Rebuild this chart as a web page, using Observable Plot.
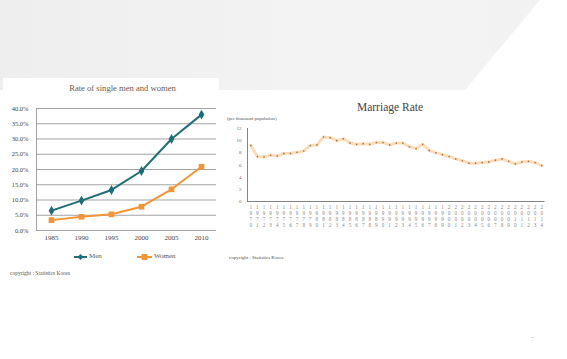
<!DOCTYPE html>
<html><head><meta charset="utf-8">
<script src="https://cdn.jsdelivr.net/npm/d3@7"></script>
<script src="https://cdn.jsdelivr.net/npm/@observablehq/plot@0.6"></script>
<style>
html,body{margin:0;padding:0;}
body{width:567px;height:359px;position:relative;overflow:hidden;background:#fff;font-family:"Liberation Serif",serif;}
#band{position:absolute;left:0;top:0;width:567px;height:90px;background:linear-gradient(90deg,#eeeeee,#f3f3f3 55%,#f2f2f2);clip-path:polygon(0 0,540px 0,465px 90px,0 90px);}
#leftpanel{position:absolute;left:3px;top:78px;width:216px;height:208px;background:#fff;}
.abs{position:absolute;white-space:nowrap;}
svg{overflow:visible;}
</style></head><body>
<div id="band"></div>
<div id="leftpanel"></div>
<div class="abs" id="ltitle" style="left:0;width:245px;top:83px;text-align:center;font-size:8.6px;color:#6b5b4b;"></div>
<div class="abs" id="left" style="left:0;top:100px;"></div>
<div class="abs" id="legend" style="left:0;top:251px;font-size:7px;color:#555;"></div>
<div class="abs" id="lcopy" style="left:10px;top:270px;font-size:5.5px;color:#555;"></div>
<div class="abs" id="rtitle" style="left:222px;width:336px;top:101px;text-align:center;font-size:11.5px;color:#444;"></div>
<div class="abs" id="unit" style="left:227px;top:116px;font-size:4.8px;color:#555;"></div>
<div class="abs" id="right" style="left:222px;top:120px;"></div>
<div class="abs" id="rcopy" style="left:229px;top:255px;font-size:5px;color:#555;"></div>
<div class="abs" style="left:530px;top:336px;font-size:8px;color:#ddd;">7</div>
<script>
// ---- Left chart data: rate of single men and women (%)
const singleYears = [1985, 1990, 1995, 2000, 2005, 2010];
const menRate = [6.5, 9.8, 13.3, 19.5, 30.0, 38.0];
const womenRate = [3.4, 4.5, 5.3, 7.8, 13.5, 20.9];
const seriesNames = ["Men", "Women"];
const pctTicks = [0, 5, 10, 15, 20, 25, 30, 35, 40];
const leftTitle = "Rate of single men and women";
const copyrightText = "copyright : Statistics Korea";

// ---- Right chart data: crude marriage rate (per thousand population)
const marriageYears = [1970,1971,1972,1973,1974,1975,1976,1977,1978,1979,
  1980,1981,1982,1983,1984,1985,1986,1987,1988,1989,
  1990,1991,1992,1993,1994,1995,1996,1997,1998,1999,
  2000,2001,2002,2003,2004,2005,2006,2007,2008,2009,
  2010,2011,2012,2013,2014];
const marriageRate = [9.2,7.4,7.3,7.6,7.5,7.9,7.9,8.1,8.3,9.2,
  9.3,10.6,10.5,10.0,10.3,9.6,9.4,9.5,9.4,9.7,
  9.7,9.3,9.6,9.6,9.0,8.7,9.4,8.4,8.0,7.7,
  7.4,7.0,6.7,6.3,6.3,6.4,6.5,6.8,7.0,6.6,
  6.2,6.5,6.6,6.4,5.9];
const rateTicks = [0, 2, 4, 6, 8, 10, 12];
const rightTitle = "Marriage Rate";
const unitText = "(per thousand population)";

const teal = "#1f6e77", orange = "#f29438";
const font = "Liberation Serif";

document.getElementById("ltitle").textContent = leftTitle;
document.getElementById("rtitle").textContent = rightTitle;
document.getElementById("unit").textContent = unitText;
document.getElementById("lcopy").textContent = copyrightText;
document.getElementById("rcopy").textContent = copyrightText;

const singleData = [];
singleYears.forEach((y, i) => {
  singleData.push({year: y, value: menRate[i], series: seriesNames[0]});
  singleData.push({year: y, value: womenRate[i], series: seriesNames[1]});
});
const men = singleData.filter(d => d.series === seriesNames[0]);
const women = singleData.filter(d => d.series === seriesNames[1]);
const lxDom = [singleYears[0] - 2.5, singleYears[singleYears.length - 1] + 2.5];

const left = Plot.plot({
  width: 220, height: 150,
  marginTop: 8, marginBottom: 20, marginLeft: 36, marginRight: 4,
  style: {fontFamily: font, color: "#444", background: "transparent"},
  x: {type: "linear", domain: lxDom, label: null},
  y: {domain: [0, 40], label: null},
  marks: [
    Plot.ruleY(pctTicks, {stroke: "#8c8c8c", strokeWidth: 0.8}),
    Plot.ruleX([lxDom[0]], {stroke: "#8c8c8c", strokeWidth: 0.8}),
    Plot.axisY({ticks: pctTicks, tickSize: 0, tickPadding: 8, fontSize: 6.5, label: null, tickFormat: d => d.toFixed(1) + "%"}),
    Plot.axisX({ticks: singleYears, tickSize: 0, tickPadding: 5, fontSize: 7, label: null, tickFormat: d => String(d)}),
    Plot.line(women, {x: "year", y: "value", stroke: orange, strokeWidth: 2}),
    Plot.dot(women, {x: "year", y: "value", symbol: "square", r: 3.2, fill: orange}),
    Plot.line(men, {x: "year", y: "value", stroke: teal, strokeWidth: 2}),
    Plot.dot(men, {x: "year", y: "value", symbol: "diamond", r: 3, fill: teal})
  ]
});
document.getElementById("left").appendChild(left);

// legend
const lg = document.getElementById("legend");
lg.innerHTML =
  `<svg width="220" height="12" style="position:absolute;left:0;top:0">
     <line x1="74" x2="87" y1="6" y2="6" stroke="${teal}" stroke-width="2"/>
     <path d="M80.5,3 L83.5,6 L80.5,9 L77.5,6Z" fill="${teal}"/>
     <line x1="137" x2="152" y1="6" y2="6" stroke="${orange}" stroke-width="2"/>
     <rect x="141.5" y="3" width="6" height="6" fill="${orange}"/>
   </svg>
   <span style="position:absolute;left:89px;top:1px">${seriesNames[0]}</span>
   <span style="position:absolute;left:154px;top:1px">${seriesNames[1]}</span>`;

const rateData = marriageYears.map((y, i) => ({year: y, value: marriageRate[i], label: String(y).split("").join("\n")}));
const rxDom = [marriageYears[0] - 0.5, marriageYears[marriageYears.length - 1] + 0.5];

const right = Plot.plot({
  width: 330, height: 112,
  marginTop: 8, marginBottom: 31, marginLeft: 25, marginRight: 7.5,
  style: {fontFamily: font, color: "#666", background: "transparent"},
  x: {type: "linear", domain: rxDom, axis: null},
  y: {domain: [0, 12], label: null},
  marks: [
    Plot.ruleY([0], {stroke: "#777", strokeWidth: 0.9}),
    Plot.ruleX([rxDom[0]], {stroke: "#777", strokeWidth: 0.9}),
    Plot.axisY({ticks: rateTicks, tickSize: 0, tickPadding: 6, fontSize: 5, label: null, tickFormat: d => String(d)}),
    Plot.text(rateData, {x: "year", y: () => 0, text: "label", dy: 3.5, lineAnchor: "top", lineHeight: 1.12, fontSize: 5.2, fill: "#888"}),
    Plot.line(rateData, {x: "year", y: "value", stroke: "#fbd3a6", strokeWidth: 3, strokeOpacity: 0.8}),
    Plot.dot(rateData, {x: "year", y: "value", r: 0.85, fill: "#a8744a"})
  ]
});
document.getElementById("right").appendChild(right);
</script>
</body></html>
